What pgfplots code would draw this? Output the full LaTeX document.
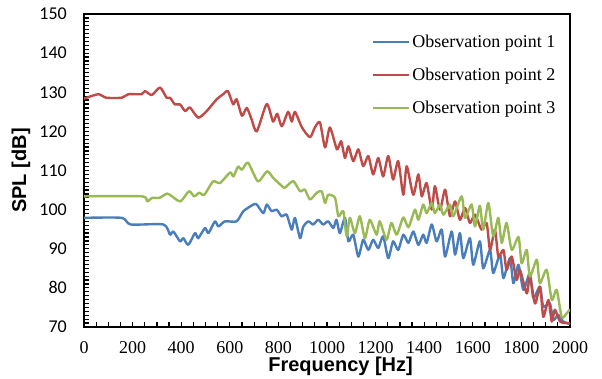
\documentclass[border=0pt]{standalone}
\usepackage{fontspec}
\setmainfont{Liberation Serif}
\newfontfamily\carlito{Carlito}
\newfontfamily\arialf{Liberation Sans}
\usepackage{pgfplots}
\pgfplotsset{compat=1.18}
\definecolor{c1}{HTML}{4A7EBB}
\definecolor{c2}{HTML}{BE4B48}
\definecolor{c3}{HTML}{98B954}
\begin{document}
\begin{tikzpicture}
\useasboundingbox (0,0) rectangle (602pt,379pt);
\begin{axis}[
  at={(84pt,52pt)}, anchor=south west,
  scale only axis, width=486pt, height=313pt,
  xmin=0, xmax=2000, ymin=70, ymax=150,
  xtick={0,200,...,2000}, ytick={70,80,...,150},
  minor x tick num=3, minor y tick num=9,
  tick align=inside, xtick pos=left, ytick pos=left,
  axis line style={line width=2pt},
  major tick length=5pt, minor tick length=5pt,
  every tick/.style={black, line width=1.2pt},
  /pgf/number format/assume math mode=true,
  /pgf/number format/1000 sep={},
  xticklabel style={font=\fontsize{18}{20}\selectfont, anchor=north, inner sep=0pt, yshift=-14pt},
  yticklabel style={font=\carlito\fontsize{18}{20}\selectfont, anchor=east, inner sep=0pt, xshift=-17pt},
  xlabel={Frequency [Hz]}, ylabel={SPL [dB]},
  xlabel style={font=\arialf\bfseries\fontsize{20}{22}\selectfont, at={(axis description cs:0.528,-0.1246)}, anchor=center},
  ylabel style={font=\arialf\bfseries\fontsize{20}{22}\selectfont, at={(axis description cs:-0.1296,0.5)}, anchor=center},
  legend style={draw=none, fill=none, at={(axis description cs:0.5926,0.94)}, anchor=north west,
    font=\fontsize{18}{20}\selectfont, row sep=15pt, inner sep=0pt, nodes={inner sep=2pt}},
  legend cell align=left,
  legend image code/.code={\draw[#1, line width=2.2pt] (0pt,0pt) -- (36pt,0pt);},
  every axis plot/.append style={line width=2.4pt, line join=round, smooth, tension=0.4},
]
\addplot[c1] coordinates {
(0,97.9) (155,97.9) (192,96.2) (327,96.2) (354,93.6) (368,94.4) (395,91.9) (409,92.7)
(429,91.0) (457,94.0) (470,92.7) (498,95.3) (512,94.0) (539,97.0) (553,95.7) (580,97.0)
(628,97.0) (656,99.6) (697,101.3) (711,101.3) (738,99.1) (752,101.3) (772,99.6) (793,100.0)
(813,98.3) (834,98.7) (855,94.9) (868,97.9) (889,92.7) (902,95.6) (923,97.0) (943,96.2)
(964,97.4) (984,96.2) (1005,97.0) (1026,95.3) (1039,97.4) (1053,94.0) (1074,97.9) (1088,91.9)
(1108,93.6) (1129,88.0) (1149,92.3) (1170,89.7) (1190,92.3) (1211,90.2) (1231,93.2) (1252,87.6)
(1272,91.9) (1293,89.7) (1314,93.6) (1335,91.5) (1355,94.4) (1376,91.0) (1396,93.6) (1410,91.5)
(1431,96.2) (1451,91.9) (1472,94.9) (1486,88.0) (1513,94.4) (1527,88.5) (1547,94.0) (1561,87.6)
(1588,92.7) (1602,85.9) (1629,91.9) (1643,85.0) (1671,89.7) (1684,83.8) (1712,88.5) (1726,82.5)
(1753,87.6) (1767,81.2) (1788,85.9) (1808,79.5) (1835,83.8) (1849,77.4) (1876,80.3) (1890,75.2)
(1917,76.1) (1931,71.8) (1952,73.1) (1972,71.4) (2000,70.8)
};
\addlegendentry{Observation point 1}
\addplot[c2] coordinates {
(0,128.3) (11,128.6) (59,129.5) (92,128.6) (155,128.6) (183,129.5) (237,129.5) (251,130.3)
(279,129.3) (313,131.2) (340,128.6) (354,128.6) (374,126.9) (395,126.9) (416,125.2) (436,126.1)
(470,123.5) (505,125.2) (546,128.2) (573,129.5) (592,130.3) (614,126.9) (628,128.2) (650,124.0)
(670,126.0) (690,123.0) (711,120.0) (752,127.0) (778,122.5) (795,124.5) (814,121.3) (840,125.0)
(855,122.5) (868,125.0) (897,121.0) (930,118.5) (950,121.0) (971,122.3) (992,115.9) (1012,121.0)
(1041,115.4) (1058,117.5) (1074,113.2) (1088,116.2) (1108,112.4) (1129,115.4) (1149,111.1) (1170,113.7)
(1190,109.0) (1211,113.2) (1231,108.5) (1252,113.7) (1272,107.7) (1293,112.4) (1314,103.8) (1328,111.1)
(1355,103.8) (1376,109.0) (1390,103.4) (1410,106.8) (1431,100.0) (1444,106.0) (1465,100.0) (1486,105.1)
(1506,98.3) (1527,102.1) (1547,97.4) (1568,100.4) (1588,96.6) (1609,98.7) (1636,94.9) (1657,96.6)
(1671,89.7) (1691,94.9) (1705,88.0) (1726,89.7) (1739,84.6) (1760,88.0) (1780,82.0) (1794,84.6)
(1822,78.6) (1835,82.9) (1856,76.0) (1877,80.3) (1890,72.6) (1911,76.9) (1925,71.4) (1938,74.4)
(1959,71.4) (1986,71.0) (2000,71.0)
};
\addlegendentry{Observation point 2}
\addplot[c3] coordinates {
(0,103.4) (237,103.4) (260,102.1) (280,103.0) (310,103.0) (342,104.1) (362,103.4) (397,102.1)
(432,104.7) (453,103.4) (474,104.3) (495,103.8) (531,107.2) (560,106.8) (601,109.5) (615,108.5)
(634,111.0) (650,110.2) (675,112.0) (716,107.2) (753,109.8) (780,108.0) (815,106.0) (827,105.6)
(861,107.3) (889,104.7) (909,105.1) (930,102.6) (958,104.3) (978,104.7) (992,101.7) (1005,103.8)
(1033,103.0) (1047,98.3) (1067,99.6) (1081,93.2) (1094,97.9) (1115,94.0) (1135,98.3) (1156,92.7)
(1176,97.4) (1204,93.6) (1217,97.0) (1245,92.3) (1265,96.6) (1287,93.6) (1314,98.0) (1335,95.5)
(1362,100.0) (1376,97.4) (1396,101.3) (1410,99.1) (1431,101.7) (1444,99.1) (1465,101.3) (1479,98.7)
(1506,101.3) (1520,98.3) (1554,103.4) (1568,97.9) (1595,101.3) (1609,95.7) (1629,101.0) (1643,94.9)
(1664,101.7) (1684,93.2) (1705,97.9) (1719,91.5) (1739,96.6) (1760,89.7) (1788,93.0) (1801,86.3)
(1822,89.7) (1835,82.9) (1863,87.2) (1876,81.2) (1904,84.6) (1925,76.9) (1945,79.5) (1966,72.5)
(1986,73.5) (2000,74.5)
};
\addlegendentry{Observation point 3}
\end{axis}
\end{tikzpicture}
\end{document}
